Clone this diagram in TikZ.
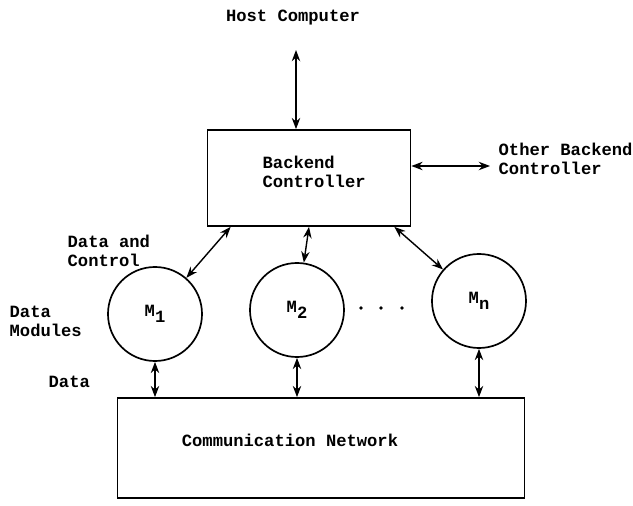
\documentclass[tikz,border=0pt]{standalone}
\usepackage{fontspec}
\setmonofont{Liberation Mono}
\usetikzlibrary{arrows.meta}

\tikzstyle{note}=[font=\ttfamily\bfseries\fontsize{12.2}{13.5}\selectfont, align=left, inner sep=1pt]
\tikzstyle{unit}=[rectangle, draw=black, line width=1.2pt]
\tikzstyle{module}=[circle, draw=black, line width=1.2pt, minimum size=2.35cm, inner sep=0pt]
\tikzstyle{link}=[line width=1pt, {Stealth[length=8pt,width=6pt]}-{Stealth[length=8pt,width=6pt]}]

\newcommand{\lowsub}[1]{\raisebox{-0.6ex}{#1}}

\begin{document}
\begin{tikzpicture}[x=0.025cm, y=-0.025cm]
	\useasboundingbox (0,0) rectangle (633,506);

	% Controller and network
	\node[unit, minimum width=5.075cm, minimum height=2.4cm] (ctrl) at (309,178) {};
	\node[note, anchor=west] (ctrltext) at (261,172) {Backend\\Controller};
	\node[unit, minimum width=10.175cm, minimum height=2.5cm] (net) at (321,448) {};
	\node[note] (nettext) at (290,440) {Communication Network};

	% Data modules
	\node[module, note] (m1) at (155,314) {M\lowsub{1}};
	\node[module, note] (m2) at (297,310) {M\lowsub{2}};
	\node[module, note] (mn) at (479,301) {M\lowsub{n}};
	\foreach \x in {361, 381, 402}{ \fill (\x,308) circle (1.3pt); }

	% Texts
	\node[note] (host) at (293,18) {Host Computer};
	\node[note, anchor=west] (other) at (497,159) {Other Backend\\Controller};
	\node[note, anchor=west] (dctl) at (66,251) {Data and\\Control};
	\node[note, anchor=west] (dmod) at (8,321) {Data\\Modules};
	\node[note, anchor=west] (dat) at (47,382) {Data};

	% Links
	\coordinate (hosttip) at (296,50);
	\coordinate (othertip) at (490,166);
	\draw[link] (hosttip) -- (hosttip |- ctrl.north);
	\draw[link] (othertip -| ctrl.east) -- (othertip);

	\draw[link] ([xshift=0.6cm]ctrl.south west) -- (m1);
	\draw[link] (ctrl.south) -- (m2);
	\draw[link] ([xshift=-0.425cm]ctrl.south east) -- (mn);

	\foreach \m in {m1, m2, mn}{ \draw[link] (\m.south) -- (\m.south |- net.north); }
\end{tikzpicture}
\end{document}
